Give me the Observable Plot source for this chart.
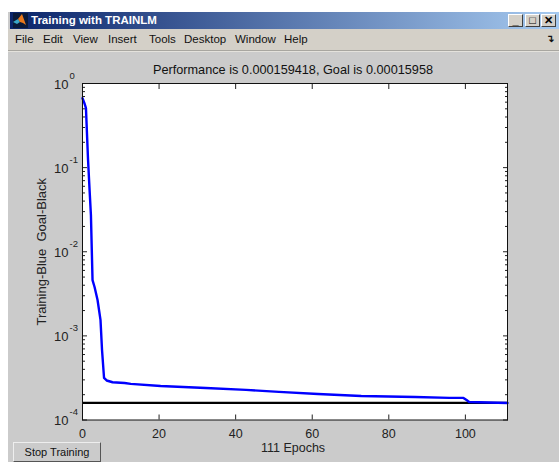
<!DOCTYPE html>
<html>
<head>
<meta charset="utf-8">
<script src="https://cdn.jsdelivr.net/npm/d3@7"></script>
<script src="https://cdn.jsdelivr.net/npm/@observablehq/plot@0.6"></script>
<style>
html,body{margin:0;padding:0;background:#fff;width:559px;height:462px;overflow:hidden;font-family:"Liberation Sans",Arial,sans-serif}
#win{position:absolute;left:8px;top:12px;width:551px;height:450px;background:#cbcbcb}
#bar{position:absolute;left:2px;top:0;right:0;height:17px;background:linear-gradient(90deg,#0a246a,#a6caf0);color:#fff;font:bold 11.5px "Liberation Sans",sans-serif;line-height:17px}
#bar span{position:absolute;left:21px;top:0;white-space:nowrap}
#menu{position:absolute;left:0;top:17px;right:0;height:21px;background:#d4d0c8;border-bottom:1px solid #a8a6a0;box-shadow:0 1px 0 #e4e2dc;color:#111;line-height:20px}
#menu span{position:absolute;top:0;white-space:nowrap;font-family:"Liberation Sans",sans-serif;font-size:11.5px}
.wb{position:absolute;top:2px;width:15px;height:13px;background:#d4d0c8;border:1px solid;border-color:#fff #404040 #404040 #fff;box-sizing:border-box;color:#000;font:bold 11px/11px "Liberation Sans";text-align:center}
#stop{position:absolute;left:13px;top:442px;width:88px;height:20px;box-sizing:border-box;background:#cbcbcb;border:1px solid;border-color:#eee #555 #555 #eee;font-size:11px;line-height:18px;text-align:center;color:#111}
#plot{position:absolute;left:0;top:0}
#plot svg{display:block}
</style>
</head>
<body>
<div id="win">
  <div id="bar">
    <svg style="position:absolute;left:3px;top:1px" width="15" height="15" viewBox="0 0 15 15"><rect width="15" height="15" fill="#0a1a3a"/><path d="M0 9 L5 6 L7 9 L4 11Z" fill="#3aa6c8"/><path d="M5 6 L9 1 L13 12 L10 10 L7 9Z" fill="#e8781c"/></svg>
    <span>Training with TRAINLM</span>
    <div class="wb" style="left:498px">_</div>
    <div class="wb" style="left:515px">&#9633;</div>
    <div class="wb" style="left:531px">&#10005;</div>
  </div>
  <div id="menu">
    <span style="left:7px">File</span><span style="left:35px">Edit</span><span style="left:65px">View</span><span style="left:100px">Insert</span><span style="left:141px">Tools</span><span style="left:176px">Desktop</span><span style="left:227px">Window</span><span style="left:276px">Help</span>
    <span style="left:538px;font-weight:bold;font-size:10px">&#8628;</span>
  </div>
</div>
<div id="plot"></div>
<div id="stop">Stop Training</div>
<script>
const epochs = [0,0.5,0.9,1.45,1.85,2.2,2.62,3.15,3.93,4.7,5.1,5.63,6.3,7.85,11,12.6,20.4,32.2,42.7,51.3,61.5,72.8,86.9,95.8,99.5,100.3,101,111];
const performance_ = [0.668,0.583,0.509,0.123,0.0541,0.0273,0.00461,0.00381,0.00267,0.00155,0.00068,0.000316,0.000295,0.000281,0.000275,0.0002685,0.000254,0.0002405,0.000228,0.0002157,0.000204,0.000193,0.000188,0.000183,0.000183,0.000173,0.000164,0.000159418];
const goal = 0.00015958;
const xTicks = [0,20,40,60,80,100];
const yMajor = [1,0.1,0.01,0.001,0.0001];
const yExponents = ["0","-1","-2","-3","-4"];
const minorMultipliers = [2,3,4,5,6,7,8,9];
const yMinor = yMajor.slice(1).flatMap(d => minorMultipliers.map(m => d*m));
const curve = epochs.map((e,i)=>({e, p:performance_[i]}));
const yTickRows = yMajor.map((v,i)=>({v, exp:yExponents[i]}));
const tickColor = "#222";

const chart = Plot.plot({
  width:559, height:462,
  marginLeft:82, marginRight:52, marginTop:83, marginBottom:42.5,
  style:{background:"transparent", fontFamily:'"Liberation Sans",Arial,sans-serif', overflow:"visible"},
  x:{domain:[0,111], axis:null},
  y:{type:"log", domain:[1e-4,1], axis:null},
  marks:[
    Plot.frame({fill:"#fff", stroke:"none"}),
    Plot.axisX({anchor:"bottom", ticks:xTicks, tickSize:-5, tickFormat:()=>"", stroke:tickColor, label:null}),
    Plot.axisX({anchor:"top", ticks:xTicks, tickSize:-5, tickFormat:()=>"", stroke:tickColor, label:null}),
    Plot.axisY({anchor:"left", ticks:yMajor, tickSize:-5, tickFormat:()=>"", stroke:tickColor, label:null}),
    Plot.axisY({anchor:"right", ticks:yMajor, tickSize:-5, tickFormat:()=>"", stroke:tickColor, label:null}),
    Plot.axisY({anchor:"left", ticks:yMinor, tickSize:-3, tickFormat:()=>"", stroke:tickColor, label:null}),
    Plot.axisY({anchor:"right", ticks:yMinor, tickSize:-3, tickFormat:()=>"", stroke:tickColor, label:null}),
    Plot.ruleY([goal], {stroke:"#000", strokeWidth:2.2}),
    Plot.line(curve, {x:"e", y:"p", stroke:"#0000ff", strokeWidth:2.4, strokeLinejoin:"round"}),
    Plot.frame({stroke:"#111", strokeWidth:1}),
    Plot.text(xTicks, {x:d=>d, frameAnchor:"bottom", text:d=>String(d), dy:18, fontSize:12.5, fill:"#222"}),
    Plot.text(yTickRows, {y:"v", frameAnchor:"left", text:()=>"10", dx:-14, dy:1, textAnchor:"end", fontSize:13, fill:"#222"}),
    Plot.text(yTickRows, {y:"v", frameAnchor:"left", text:"exp", dx:-13, dy:-8, textAnchor:"start", fontSize:9.5, fill:"#222"}),
    Plot.text(["Performance is 0.000159418, Goal is 0.00015958"], {frameAnchor:"top", dy:-19, dx:-2, fontSize:12.7, fill:"#111"}),
    Plot.text(["111 Epochs"], {frameAnchor:"bottom", dy:32, dx:-2, fontSize:12.5, fill:"#222"}),
    Plot.text(["Training-Blue  Goal-Black"], {frameAnchor:"left", rotate:-90, dx:-41, textAnchor:"middle", fontSize:13, fill:"#222", lineAnchor:"middle"})
  ]
});
document.getElementById("plot").appendChild(chart);
</script>
</body>
</html>
